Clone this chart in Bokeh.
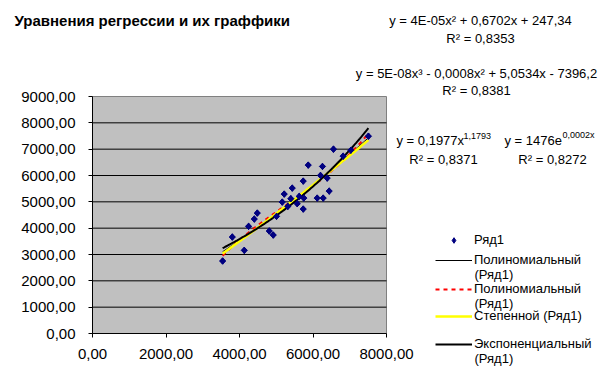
import numpy as np
from bokeh.plotting import figure
from bokeh.models import (Label, Legend, LegendItem, FixedTicker)
from bokeh.core.properties import value
from bokeh.embed import file_html
from bokeh.resources import INLINE

# ---- data ----
x_vals = [3541, 3804, 4130, 4247, 4402, 4484, 4810, 4918, 5008, 5163,
          5217, 5315, 5397, 5435, 5571, 5625, 5734, 5750, 5734, 5870,
          6114, 6204, 6258, 6277, 6386, 6440, 6557, 6821, 7030, 7508]
y_vals = [2753, 3663, 3159, 4069, 4346, 4573, 3891, 3739, 4448, 4991,
          5294, 4827, 5119, 5521, 4930, 5207, 5787, 5142, 4725, 6394,
          5142, 6003, 6344, 5142, 5901, 5408, 7000, 6735, 6960, 7493]

x_ticks = [0, 2000, 4000, 6000, 8000]
x_tick_labels = ["0,00", "2000,00", "4000,00", "6000,00", "8000,00"]
y_ticks = [0, 1000, 2000, 3000, 4000, 5000, 6000, 7000, 8000, 9000]
y_tick_labels = ["0,00", "1000,00", "2000,00", "3000,00", "4000,00",
                 "5000,00", "6000,00", "7000,00", "8000,00", "9000,00"]

title_text = "Уравнения регрессии и их граффики"
series_name = "Ряд1"
legend_names = ["Полиномиальный", "Полиномиальный", "Степенной (Ряд1)", "Экспоненциальный"]
legend_second_line = "(Ряд1)"
eq_poly2 = "y = 4E-05x² + 0,6702x + 247,34"
r2_poly2 = "R² = 0,8353"
eq_poly3 = "y = 5E-08x³ - 0,0008x² + 5,0534x - 7396,2"
r2_poly3 = "R² = 0,8381"
eq_pow_base, eq_pow_exp = "y = 0,1977x", "1,1793"
r2_pow = "R² = 0,8371"
eq_exp_base, eq_exp_exp = "y = 1476e", "0,0002x"
r2_exp = "R² = 0,8272"

# ---- regression trend lines fitted to the data ----
xa = np.array(x_vals, dtype=float)
ya = np.array(y_vals, dtype=float)
xs = np.linspace(xa.min(), xa.max(), 120)
c2 = np.polyfit(xa, ya, 2)
c3 = np.polyfit(xa, ya, 3)
y_poly2 = np.polyval(c2, xs)
y_poly3 = np.polyval(c3, xs)
bp, ap = np.polyfit(np.log(xa), np.log(ya), 1)
y_pow = np.exp(ap) * xs ** bp
be, ae = np.polyfit(xa, np.log(ya), 1)
y_exp = np.exp(ae) * np.exp(be * xs)

# ---- layout: the frame covers the whole page, the chart's plot area sits inside it ----
W, H = 614, 385
PA_L, PA_R, PA_T, PA_B = 92, 386, 96, 333          # plot-area pixel box
x0, x1 = x_ticks[0], x_ticks[-1]
y0, y1 = y_ticks[0], y_ticks[-1]
sx = (x1 - x0) / (PA_R - PA_L)
sy = (y1 - y0) / (PA_B - PA_T)
x_range = (x0 - PA_L * sx, x0 + (W - PA_L) * sx)
y_range = (y0 - (H - PA_B) * sy, y0 + PA_B * sy)

FONT = "Liberation Sans"

p = figure(width=W, height=H, x_range=x_range, y_range=y_range,
           output_backend="svg", toolbar_location=None,
           min_border_left=0, min_border_right=0,
           min_border_top=0, min_border_bottom=0)
p.background_fill_color = "white"
p.border_fill_color = "white"
p.outline_line_color = None
p.xgrid.visible = False
p.ygrid.visible = False

# plot area and horizontal gridlines
p.quad(left=[x0], right=[x1], bottom=[y0], top=[y1],
       fill_color="#C0C0C0", line_color="#808080", line_width=1)
p.segment(x0=[x0] * (len(y_ticks) - 2), x1=[x1] * (len(y_ticks) - 2),
          y0=y_ticks[1:-1], y1=y_ticks[1:-1], line_color="black", line_width=1)

for ax, ticks, labels, bnd in ((p.xaxis[0], x_ticks, x_tick_labels, (x0, x1)),
                               (p.yaxis[0], y_ticks, y_tick_labels, (y0, y1))):
    ax.ticker = FixedTicker(ticks=ticks)
    ax.major_label_overrides = {t: l for t, l in zip(ticks, labels)}
    ax.fixed_location = 0
    ax.bounds = bnd
    ax.minor_tick_line_color = None
    ax.major_tick_in = 0
    ax.major_tick_out = 4
    ax.axis_line_color = "black"
    ax.major_tick_line_color = "black"
    ax.major_label_text_font = FONT
    ax.major_label_text_font_size = "15px"
    ax.major_label_text_color = "black"
p.yaxis.major_label_standoff = 13
p.xaxis.major_label_standoff = 11

r_p2 = p.line(xs, y_poly2, line_color="black", line_width=1)
r_p3 = p.line(xs, y_poly3, line_color="red", line_width=2, line_dash="4 4")
r_pw = p.line(xs, y_pow, line_color="#FFFF00", line_width=2.5)
r_ex = p.line(xs, y_exp, line_color="black", line_width=2)
# series markers: a diamond (used by the legend) covered by a rotated square
r_sc_leg = p.scatter(x_vals, y_vals, marker="diamond", size=6.5,
                     fill_color="#000080", line_color="#000080")
r_sc = p.scatter(x_vals, y_vals, marker="square", angle=np.pi / 4, size=4.4,
                 fill_color="#000080", line_color="#000080")

# legends: one per entry, placed at the reference positions (screen px)
legend_specs = [
    (series_name, r_sc_leg, 138),
    (legend_names[0], r_p2, 118),
    (legend_names[1], r_p3, 89),
    (legend_names[2], r_pw, 62),
    (legend_names[3], r_ex, 34),
]
for name, rend, vy in legend_specs:
    leg = Legend(items=[LegendItem(label=value(name), renderers=[rend])],
                 location=(435, vy), padding=0, margin=0, spacing=0,
                 glyph_width=37, glyph_height=14, label_height=14,
                 label_standoff=2, border_line_alpha=0,
                 background_fill_alpha=0,
                 label_text_font=FONT, label_text_font_size="13px",
                 label_text_color="black")
    p.add_layout(leg)


def lab(x, y, t, align="center", size="13px", bold=False):
    p.add_layout(Label(x=x, y=y, x_units="screen", y_units="screen", text=t,
                       text_align=align, text_baseline="middle",
                       text_font=FONT, text_font_size=size,
                       text_font_style="bold" if bold else "normal",
                       text_color="black"))


for yy in (111, 82, 27):
    lab(474, yy, legend_second_line, align="left")

lab(14, 365, title_text, align="left", size="15px", bold=True)
lab(480, 365, eq_poly2)
lab(480, 347, r2_poly2)
lab(476, 312, eq_poly3)
lab(476, 295, r2_poly3)
lab(396, 245, eq_pow_base, align="left")
lab(463, 250, eq_pow_exp, align="left", size="9px")
lab(443, 226, r2_pow)
lab(504, 245, eq_exp_base, align="left")
lab(562, 251, eq_exp_exp, align="left", size="9px")
lab(552, 226, r2_exp)

open("out.html", "w").write(file_html(p, INLINE))
